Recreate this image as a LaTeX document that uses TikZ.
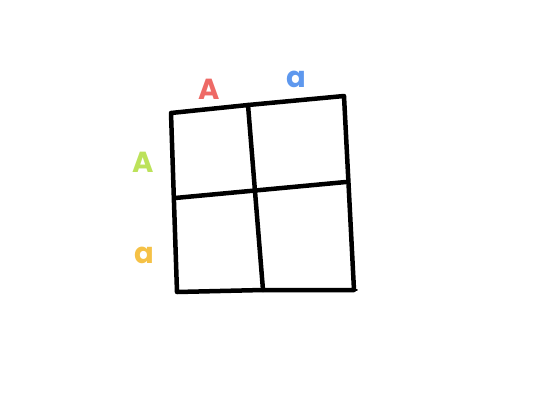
\documentclass[tikz,border=0pt]{standalone}
\usepackage{fontspec}
\setmainfont{Poppins}
\definecolor{cred}{HTML}{EE6A66}
\definecolor{cblue}{HTML}{5E98EE}
\definecolor{cgreen}{HTML}{BCE25A}
\definecolor{corange}{HTML}{F5C146}
\begin{document}
\begin{tikzpicture}[x=1pt,y=-1pt,
  pen/.style={line width=4.5pt,line cap=round,line join=round,black},
  lbl/.style={font=\fontsize{29}{29}\selectfont\bfseries,inner sep=0pt}]
\useasboundingbox (0,0) rectangle (550,400);
\coordinate (tl) at (171,113);
\coordinate (tr) at (344,96);
\coordinate (br) at (354,290);
\coordinate (bl) at (177,292);
\coordinate (vt) at (248,105);
\coordinate (vb) at (263,290);
\coordinate (hl) at (175,198);
\coordinate (hr) at (346,182);
\draw[pen] (tl) -- (vt) -- (tr) -- (br) -- (vb) -- (bl) -- cycle;
\draw[pen] (vt) -- (vb);
\draw[pen] (hl) -- (hr);
\draw[pen,line width=1.5pt] (br) -- ++(3,0);
\node[lbl,text=cred] (A1) at (209,89) {A};
\node[lbl,text=cblue] (a1) at (296,79) {a};
\node[lbl,text=cgreen] (A2) at (143,162) {A};
\node[lbl,text=corange] (a2) at (144,255) {a};
\end{tikzpicture}
\end{document}
